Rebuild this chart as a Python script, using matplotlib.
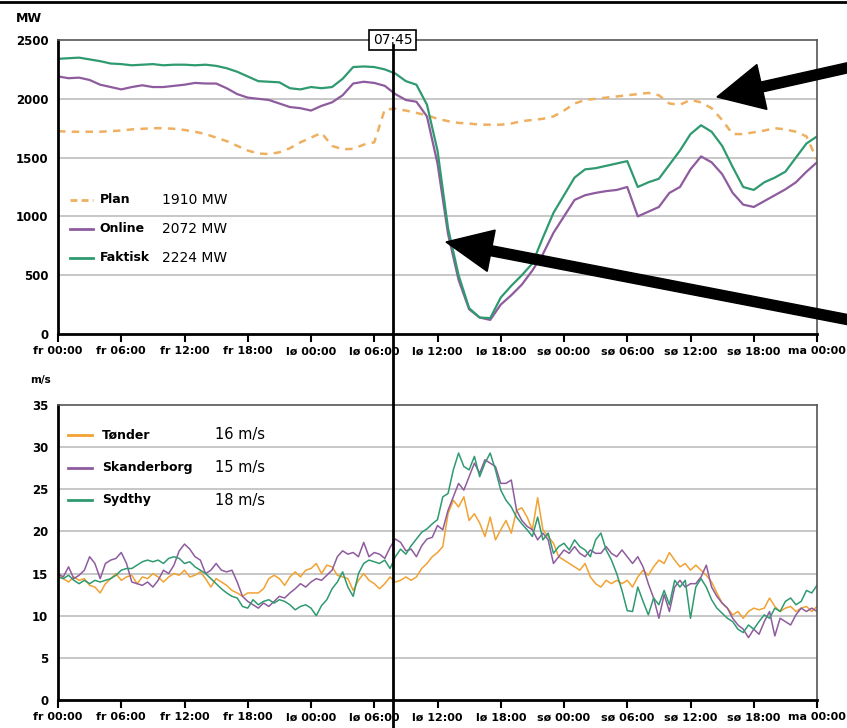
import numpy as np
import matplotlib.pyplot as plt
from matplotlib.lines import Line2D
from matplotlib.patches import FancyArrow
from matplotlib.transforms import blended_transform_factory

# x axis: hours from fredag 00:00 to mandag 00:00
tick_labels = ['fr 00:00', 'fr 06:00', 'fr 12:00', 'fr 18:00', 'lø 00:00', 'lø 06:00',
               'lø 12:00', 'lø 18:00', 'sø 00:00', 'sø 06:00', 'sø 12:00', 'sø 18:00', 'ma 00:00']
marker_hour = 31.75  # lø 07:45
marker_label = '07:45'

# --- wind power, MW (hourly) ---
hours_mw = np.arange(0, 73)
plan_mw = [1725, 1720, 1720, 1720, 1720, 1725, 1730, 1740, 1745, 1750, 1750, 1745, 1735,
           1720, 1700, 1670, 1640, 1600, 1560, 1535, 1530, 1545, 1580, 1630, 1670, 1710,
           1600, 1570, 1575, 1610, 1630, 1910, 1915, 1900, 1880, 1860, 1830, 1810, 1795,
           1790, 1780, 1780, 1780, 1790, 1810, 1820, 1830, 1850, 1900, 1960, 1990, 2000,
           2010, 2020, 2030, 2040, 2050, 2030, 1960, 1950, 1990, 1970, 1920, 1820, 1700,
           1700, 1715, 1730, 1750, 1740, 1720, 1680, 1480]
online_mw = [2190, 2175, 2180, 2160, 2120, 2100, 2080, 2100, 2115, 2100, 2100, 2110, 2120,
             2135, 2130, 2130, 2090, 2040, 2010, 2000, 1990, 1960, 1930, 1920, 1900, 1940,
             1970, 2030, 2130, 2145, 2135, 2110, 2040, 1990, 1975, 1850, 1450, 850, 460,
             210, 140, 120, 250, 330, 420, 540, 680, 860, 1000, 1140, 1180, 1200,
             1215, 1225, 1250, 1000, 1040, 1080, 1200, 1250, 1400, 1510, 1460, 1360, 1200,
             1100, 1080, 1130, 1180, 1230, 1290, 1380, 1460]
faktisk_mw = [2340, 2345, 2350, 2335, 2320, 2300, 2295, 2285, 2290, 2295, 2285, 2290, 2290,
              2285, 2290, 2280, 2260, 2230, 2190, 2150, 2145, 2140, 2090, 2080, 2100, 2090,
              2100, 2170, 2270, 2275, 2270, 2250, 2215, 2150, 2120, 1950, 1560, 900, 500,
              220, 140, 135, 310, 410, 500, 600, 820, 1030, 1180, 1330, 1400, 1410,
              1430, 1450, 1470, 1250, 1290, 1320, 1440, 1560, 1700, 1775, 1720, 1600, 1420,
              1250, 1225, 1290, 1330, 1380, 1500, 1620, 1680]
mw_names = ['Plan', 'Online', 'Faktisk']
mw_values = ['1910 MW', '2072 MW', '2224 MW']

# --- wind speed, m/s (half-hourly) ---
hours_ws = np.arange(0, 72.5, 0.5)
tonder = [14.8, 14.4, 14.0, 14.6, 14.2, 14.4, 13.6, 13.4, 12.7, 13.8, 14.4, 15.0, 14.2, 14.6,
          14.8, 13.8, 14.6, 14.4, 15.0, 14.6, 14.0, 14.6, 15.0, 14.8, 15.4, 14.6, 14.8, 15.2,
          14.4, 13.4, 14.4, 14.0, 13.6, 13.0, 12.7, 12.3, 12.7,
          12.7, 12.7, 13.2, 14.4, 14.8, 14.4, 13.6, 14.6, 15.2, 14.6, 15.4, 15.6, 16.2, 15.0,
          16.0, 15.8, 14.8, 14.6, 14.4, 13.0, 14.2, 15.0, 14.2, 13.8, 13.2, 13.8, 14.6, 14.0,
          14.2, 14.6, 14.2, 14.6, 15.6, 16.2, 17.0, 17.5,
          18.2, 22.1, 23.7, 22.9, 24.1, 21.3, 22.1, 21.0, 19.4, 21.7, 19.0, 20.2, 21.3, 19.8,
          22.5, 22.8, 21.7, 20.2, 24.0, 20.2, 19.4, 18.6, 17.0, 16.6, 16.2, 15.8, 15.4, 16.2,
          14.6, 13.8, 13.4, 14.2, 13.8, 14.2, 13.8, 14.2,
          13.4, 14.6, 15.4, 14.8, 15.8, 16.6, 16.2, 17.5, 16.6, 15.8, 16.2, 15.4, 16.0, 15.4,
          14.8, 14.0, 12.7, 11.5, 10.9, 10.1, 10.5, 9.7, 10.5, 10.9, 10.7, 10.9, 12.1, 11.1,
          10.5, 10.9, 11.1, 10.5, 10.9, 11.1, 10.5, 11.1]
skanderborg = [15.0, 14.6, 15.8, 14.4, 14.8, 15.4, 17.0, 16.2, 14.4, 16.2, 16.6, 16.8, 17.5,
               16.2, 14.0, 13.8, 13.6, 14.0, 13.4, 14.2, 15.4, 15.0, 16.0, 17.7, 18.5, 17.9,
               17.0, 16.6, 15.0, 15.4, 16.2, 15.4, 15.2, 15.4, 14.0, 12.3, 11.7,
               11.3, 10.9, 11.5, 11.1, 11.7, 12.3, 12.1, 12.7, 13.2, 13.8, 13.4, 14.0, 14.4,
               14.2, 14.8, 15.4, 17.0, 17.7, 17.3, 17.5, 17.0, 18.7, 17.0, 17.5, 17.3, 16.8,
               18.1, 19.1, 18.7, 17.7, 17.9, 17.0, 18.3, 19.1, 19.3, 20.7,
               20.2, 22.5, 24.1, 25.7, 24.9, 26.5, 28.1, 26.9, 28.5, 28.1, 27.7, 25.7, 25.7,
               26.1, 22.5, 21.3, 20.6, 20.2, 19.0, 19.8, 19.0, 16.2, 17.0, 17.8, 17.4, 18.2,
               17.4, 17.0, 17.8, 17.4, 17.4, 18.2, 17.4, 17.0, 17.8, 17.0,
               16.2, 17.0, 15.8, 13.8, 12.1, 9.7, 12.5, 10.5, 13.4, 14.2, 13.4, 13.8, 13.8,
               14.6, 16.0, 13.4, 12.3, 11.5, 10.9, 9.7, 8.9, 8.4, 7.4, 8.4, 7.8, 9.3, 10.5,
               7.6, 9.7, 9.3, 8.9, 10.1, 10.9, 10.5, 10.9, 10.5]
sydthy = [14.6, 14.4, 14.8, 14.2, 13.8, 14.2, 13.8, 14.2, 14.0, 14.2, 14.4, 14.8, 15.4, 15.6,
          15.6, 16.0, 16.4, 16.6, 16.4, 16.6, 16.2, 16.8, 17.0, 16.8, 16.2, 16.4, 15.8, 15.4,
          15.0, 14.4, 13.8, 13.2, 12.7, 12.3, 12.1, 11.1, 10.9,
          11.9, 11.3, 11.7, 11.9, 11.5, 11.9, 11.7, 11.3, 10.7, 11.1, 11.3, 10.9, 10.0, 11.2,
          11.9, 13.2, 14.0, 15.2, 13.4, 12.3, 15.0, 16.2, 16.6, 16.4, 16.2, 16.6, 15.6, 17.0,
          17.9, 17.3, 18.3, 19.1, 19.9, 20.3, 20.9, 21.4,
          24.1, 24.5, 27.3, 29.3, 27.7, 27.3, 28.9, 26.5, 28.1, 29.3, 27.3, 24.9, 23.7, 22.9,
          21.7, 20.9, 20.2, 19.4, 21.7, 19.0, 19.8, 17.4, 18.2, 18.6, 17.8, 19.0, 18.2, 17.8,
          17.0, 19.0, 19.8, 17.8, 16.6, 15.0, 13.0, 10.6,
          10.5, 13.4, 11.7, 10.1, 12.1, 11.3, 13.0, 11.3, 14.2, 13.4, 14.2, 9.7, 13.4, 14.4,
          13.4, 11.9, 10.9, 10.3, 9.7, 9.3, 8.4, 8.0, 8.9, 8.4, 9.3, 10.1, 9.7, 10.9, 10.5,
          11.7, 12.1, 11.3, 11.7, 13.0, 12.7, 13.6]
ws_names = ['Tønder', 'Skanderborg', 'Sydthy']
ws_values = ['16 m/s', '15 m/s', '18 m/s']

c_orange = '#f2a232'
c_plan = '#eeb060'
c_purple = '#8e5c9e'
c_green = '#2f9a70'

W, H = 847, 728
fig = plt.figure(figsize=(W / 100, H / 100), dpi=100)
ax1 = fig.add_axes([58 / W, 1 - 334 / H, 759 / W, 294 / H])
ax2 = fig.add_axes([58 / W, 1 - 700 / H, 759 / W, 295 / H])


def style_axis(ax, yticks):
    ax.set_xlim(0, 72)
    ax.set_ylim(yticks[0], yticks[-1])
    ax.set_xticks(np.arange(0, 73, 6))
    ax.set_xticklabels(tick_labels, fontsize=8, fontweight='bold')
    ax.set_yticks(yticks)
    ax.set_yticklabels([str(t) for t in yticks], fontsize=8.5, fontweight='bold')
    ax.tick_params(axis='x', direction='out', length=6, width=1.5, pad=3)
    ax.tick_params(axis='y', length=0, pad=7)
    for t in yticks[1:-1]:
        ax.axhline(t, color='#b8b8b8', lw=1.1, zorder=0)
    ax.spines['left'].set_linewidth(2)
    ax.spines['bottom'].set_linewidth(2)
    ax.spines['top'].set_linewidth(1.2)
    ax.spines['right'].set_linewidth(1.2)
    ax.spines['top'].set_color('#555555')
    ax.spines['right'].set_color('#555555')


style_axis(ax1, [0, 500, 1000, 1500, 2000, 2500])
style_axis(ax2, [0, 5, 10, 15, 20, 25, 30, 35])

ax1.plot(hours_mw, plan_mw, color=c_plan, lw=1.8, ls=(0, (3, 2.5)))
ax1.plot(hours_mw, online_mw, color=c_purple, lw=1.6)
ax1.plot(hours_mw, faktisk_mw, color=c_green, lw=1.6)

ax2.plot(hours_ws, tonder, color=c_orange, lw=1.1)
ax2.plot(hours_ws, skanderborg, color=c_purple, lw=1.1)
ax2.plot(hours_ws, sydthy, color=c_green, lw=1.1)

# hand-made legends
for i, (name, val, col, ls) in enumerate(zip(mw_names, mw_values,
                                               [c_plan, c_purple, c_green],
                                               [(0, (2.5, 1.5)), '-', '-'])):
    y = (334 - (200 + 29 * i)) / 294
    ax1.plot([0.016, 0.046], [y, y], transform=ax1.transAxes, color=col, lw=2, ls=ls)
    ax1.text(0.055, y, name, transform=ax1.transAxes, va='center', fontsize=9, fontweight='bold')
    ax1.text(0.137, y, val, transform=ax1.transAxes, va='center', fontsize=10)

for i, (name, val, col) in enumerate(zip(ws_names, ws_values, [c_orange, c_purple, c_green])):
    y = (700 - (435 + 32.5 * i)) / 295
    ax2.plot([0.013, 0.045], [y, y], transform=ax2.transAxes, color=col, lw=2)
    ax2.text(0.058, y, name, transform=ax2.transAxes, va='center', fontsize=9, fontweight='bold')
    ax2.text(0.207, y, val, transform=ax2.transAxes, va='center', fontsize=10.5)

fig.text(29 / W, 1 - 18 / H, 'MW', ha='center', va='center', fontsize=9, fontweight='bold')
fig.text(40 / W, 1 - 380 / H, 'm/s', ha='center', va='center', fontsize=7.5, fontweight='bold')

# time marker through both panels
trans = blended_transform_factory(ax1.transData, fig.transFigure)
fig.add_artist(Line2D([marker_hour, marker_hour], [0, 1 - 45 / H], transform=trans,
                      color='black', lw=2, zorder=10))
ax1.text(marker_hour, 2500, marker_label, ha='center', va='center', fontsize=10,
         clip_on=False, zorder=11,
         bbox=dict(boxstyle='square,pad=0.25', fc='white', ec='black', lw=1.2))

# frame line at the very top
fig.add_artist(Line2D([0, 1], [1 - 2 / H, 1 - 2 / H], transform=fig.transFigure,
                      color='black', lw=2))

# big arrows
fig.add_artist(FancyArrow(8.6, 6.63, -1.43, -0.32, width=0.10, head_width=0.46,
                          head_length=0.46, length_includes_head=True,
                          transform=fig.dpi_scale_trans, color='black', zorder=12))
fig.add_artist(FancyArrow(8.6, 4.06, -4.14, 0.80, width=0.10, head_width=0.42,
                          head_length=0.46, length_includes_head=True,
                          transform=fig.dpi_scale_trans, color='black', zorder=12))

fig.savefig('out.png', dpi=100)
